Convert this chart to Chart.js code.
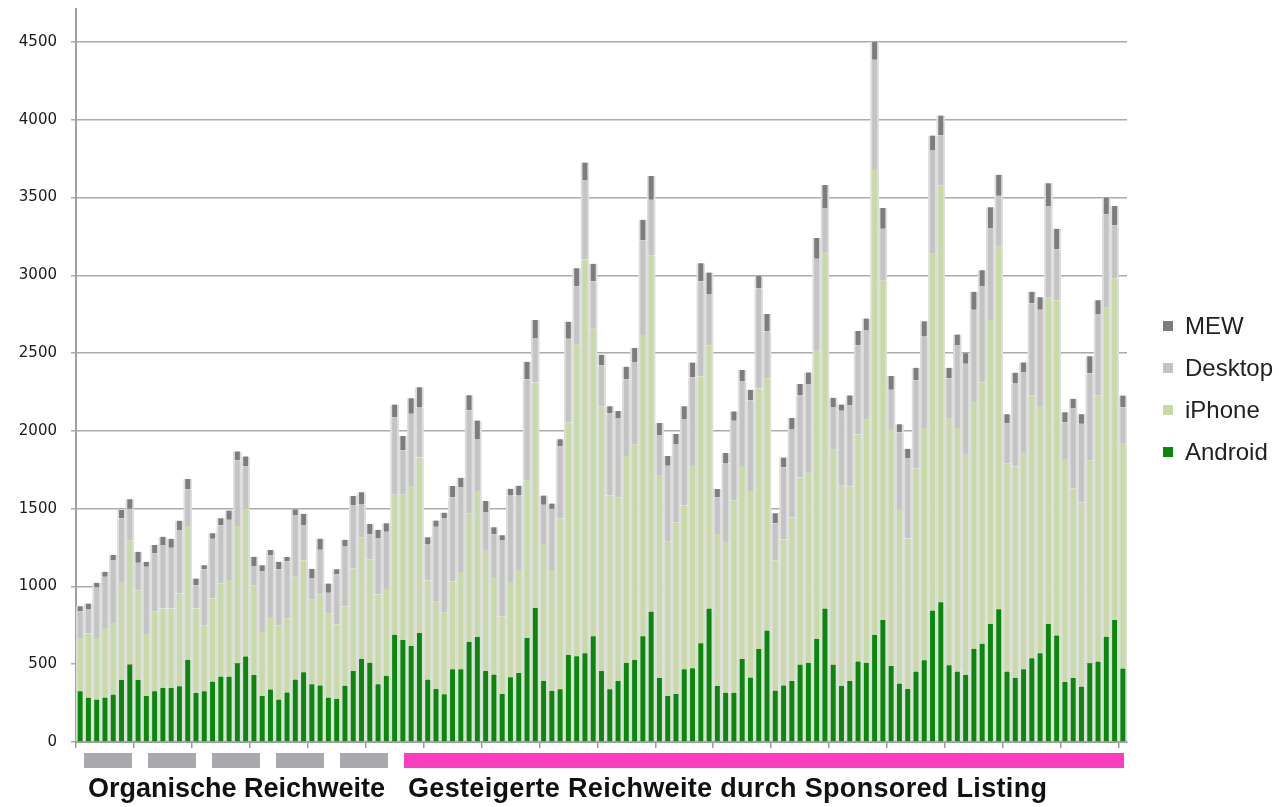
<!DOCTYPE html>
<html lang="de">
<head>
<meta charset="utf-8">
<title>Reichweite</title>
<script src="https://cdn.jsdelivr.net/npm/chart.js@4.4.1/dist/chart.umd.min.js"></script>
<style>
  html, body { margin: 0; padding: 0; background: #fff; }
  #wrap { position: relative; width: 1279px; height: 807px; overflow: hidden; }
  #chart { position: absolute; left: 0; top: 0; }
  .band { position: absolute; top: 753px; height: 15px; }
  .band.grey { background: #a9a9ad; }
  .band.pink { background: #fc3dc0; }
  .cap { position: absolute; top: 773px; font: bold 27px 'Liberation Sans', Arial, sans-serif; color: #111; white-space: nowrap; }
  #legend { position: absolute; left: 1163px; top: 305px; font: 24px 'Liberation Sans', Arial, sans-serif; color: #222; }
  #legend div { height: 42px; line-height: 42px; white-space: nowrap; }
  #legend span { display: inline-block; width: 10px; height: 10px; margin-right: 12px; vertical-align: middle; position: relative; top: -2px; }
</style>
</head>
<body>
<div id="wrap">
  <canvas id="chart" width="1279" height="807"></canvas>
  <div class="band grey" style="left:84px;width:48px"></div>
  <div class="band grey" style="left:148px;width:48px"></div>
  <div class="band grey" style="left:212px;width:48px"></div>
  <div class="band grey" style="left:276px;width:48px"></div>
  <div class="band grey" style="left:340px;width:48px"></div>
  <div class="band pink" style="left:404px;width:720px"></div>
  <div class="cap" style="left:88px">Organische Reichweite</div>
  <div class="cap" style="left:408px;letter-spacing:0.33px">Gesteigerte Reichweite durch Sponsored Listing</div>
  <div id="legend"></div>
</div>
<script>
(function () {
  'use strict';

  // daily values, 127 days (18 weeks + 1)
  var android = [327,286,273,286,305,400,499,400,295,327,348,348,359,529,316,327,389,421,421,507,550,432,295,338,273,
    319,402,448,371,364,286,276,362,457,533,510,371,426,690,657,617,700,402,340,307,467,467,645,676,457,
    434,309,416,444,668,862,393,329,339,561,551,571,679,457,339,393,508,528,679,839,411,296,309,467,474,635,
    858,361,317,317,533,414,598,716,331,364,394,497,509,663,858,497,361,394,518,509,689,784,488,376,340,
    453,525,845,899,493,453,432,600,632,760,853,453,413,467,539,571,760,685,387,411,357,507,517,677,784,472];

  var iphone = [342,411,396,447,460,628,795,576,395,514,510,510,596,860,542,423,533,598,620,882,953,576,412,466,477,
    476,660,721,543,584,538,481,509,660,784,664,577,557,900,933,1028,1129,636,562,524,564,626,826,938,772,
    627,497,612,661,1011,1449,880,776,1100,1495,2003,2531,1977,1701,1245,1178,1331,1383,1938,2289,1301,995,1104,1053,1307,1715,
    1693,976,964,1236,1242,1199,1675,1622,838,938,1050,1204,1222,1852,2287,1382,1287,1248,1459,1562,2995,2181,1524,1118,968,
    1305,1494,2294,2680,1585,1566,1414,1592,1680,1952,2331,1339,1358,1397,1688,1589,2099,2155,1432,1221,1182,1304,1710,2115,2195,1446];

  var desktop = [172,154,324,329,405,410,205,176,437,372,408,391,408,236,150,359,385,374,387,421,269,123,392,398,359,
    367,398,226,141,288,136,322,389,404,209,162,364,369,496,286,465,321,231,481,605,543,547,662,334,250,
    273,492,556,479,653,286,252,395,464,536,375,510,306,263,528,511,493,528,607,357,262,485,503,557,563,612,
    325,237,509,512,542,583,642,301,237,465,568,527,571,592,287,275,482,524,574,577,701,334,252,497,518,
    568,587,667,320,261,533,586,587,619,592,328,259,533,515,592,619,587,326,235,515,507,560,525,600,341,234];

  var mew = [32,39,30,32,32,54,62,71,32,53,54,58,60,65,43,28,35,45,60,58,64,60,38,32,50,
    28,35,72,59,71,59,31,40,60,79,66,52,55,83,91,100,131,48,41,38,71,58,96,119,71,
    46,31,44,64,112,115,59,33,43,110,117,113,112,69,46,46,81,94,133,153,77,63,64,81,95,115,
    142,53,68,60,74,68,80,113,65,62,71,74,74,133,148,59,39,62,91,74,115,133,88,51,59,
    80,98,93,128,67,67,67,115,101,134,134,56,70,61,75,80,146,133,66,59,61,109,88,107,126,75];

  var yTicks = [0, 500, 1000, 1500, 2000, 2500, 3000, 3500, 4000, 4500];

  var days = [];
  for (var i = 0; i < android.length; i++) days.push('Tag ' + (i + 1));

  function ds(label, data, color) {
    return {
      label: label,
      data: data,
      backgroundColor: color,
      borderColor: '#dedede',
      borderWidth: { left: 2, right: 2, top: 0, bottom: 0 },
      borderSkipped: false,
      barPercentage: 1,
      categoryPercentage: 1
    };
  }

  var chart = new Chart(document.getElementById('chart'), {
    type: 'bar',
    data: {
      labels: days,
      datasets: [
        ds('Android', android, '#0a880a'),
        ds('iPhone', iphone, '#c8dba6'),
        ds('Desktop', desktop, '#c4c4c4'),
        ds('MEW', mew, '#7d7d7d')
      ]
    },
    options: {
      responsive: false,
      animation: false,
      layout: { padding: { left: 0, right: 152, top: 9, bottom: 57 } },
      plugins: { legend: { display: false }, tooltip: { enabled: false } },
      scales: {
        x: {
          stacked: true,
          grid: {
            drawOnChartArea: false, drawTicks: true, tickLength: 6, lineWidth: 1.5, offset: true,
            color: function (c) { return c.index % 7 === 0 ? '#9a9a9a' : 'rgba(0,0,0,0)'; }
          },
          border: { display: true, color: '#a0a0a0', width: 2 },
          ticks: {
            autoSkip: false, maxRotation: 0, padding: 0, font: { size: 1 },
            callback: function () { return ''; }
          },
          afterFit: function (s) { s.height = 8; }
        },
        y: {
          stacked: true,
          min: 0,
          max: 4712,
          z: 1,
          grid: { color: '#ababab', lineWidth: 1.5, tickLength: 5 },
          border: { color: '#a0a0a0', width: 2 },
          ticks: {
            padding: 14, color: '#1a1a1a', font: { family: 'DejaVu Sans', size: 15 },
            callback: function (v) { return String(v); }
          },
          afterBuildTicks: function (s) {
            s.ticks = yTicks.map(function (v) { return { value: v }; });
          },
          afterFit: function (s) {
            s.width = 76;
            s.paddingTop = 0;
            s.paddingBottom = 0;
          }
        }
      }
    }
  });

  // legend, top item = last stacked series
  var legend = document.getElementById('legend');
  chart.data.datasets.slice().reverse().forEach(function (d) {
    var row = document.createElement('div');
    var box = document.createElement('span');
    box.style.background = d.backgroundColor;
    row.appendChild(box);
    row.appendChild(document.createTextNode(d.label));
    legend.appendChild(row);
  });
})();
</script>
</body>
</html>
